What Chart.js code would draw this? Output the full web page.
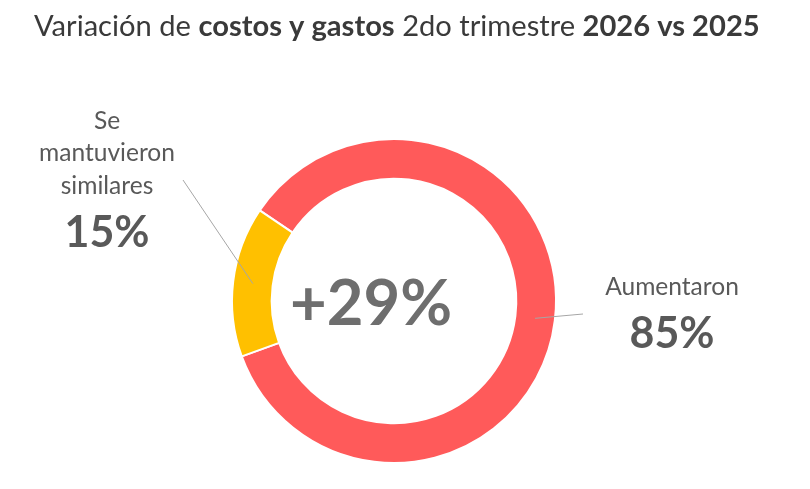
<!DOCTYPE html>
<html>
<head>
<meta charset="utf-8">
<script src="https://cdn.jsdelivr.net/npm/chart.js@4.4.1/dist/chart.umd.min.js"></script>
<style>
  html, body { margin: 0; padding: 0; background: #ffffff; }
  #wrap { width: 810px; height: 489px; position: relative; }
</style>
</head>
<body>
<div id="wrap"><canvas id="c"></canvas></div>
<script>
const categories = ['Aumentaron', 'Se mantuvieron similares'];
const labelLines = [['Aumentaron'], ['Se', 'mantuvieron', 'similares']];
const values = [85, 15];
const colors = ['#FF5A5A', '#FFC000'];
const centerValue = '+29%';
const titleParts = [
  ['Variación de ', false], ['costos y gastos', true], [' 2do trimestre ', false], ['2026 vs 2025', true]
];

const FONT = 'Lato, "Open Sans", sans-serif';

function fitSize(ctx, text, weight, targetW) {
  ctx.font = weight + ' 100px ' + FONT;
  return 100 * targetW / ctx.measureText(text).width;
}

const overlay = {
  id: 'overlay',
  afterDraw(chart) {
    const ctx = chart.ctx;
    const meta = chart.getDatasetMeta(0);
    const a0 = meta.data[0];
    const cx = a0.x, cy = a0.y;

    ctx.save();
    // Title
    let total = 0;
    const ts = 29;
    titleParts.forEach(p => { ctx.font = (p[1] ? 'bold ' : '') + ts + 'px ' + FONT; total += ctx.measureText(p[0]).width; });
    const scale = 726 / total;
    let x = 397 - 726 / 2;
    ctx.fillStyle = '#3a3a3a';
    ctx.textBaseline = 'alphabetic';
    ctx.textAlign = 'left';
    titleParts.forEach(p => {
      ctx.font = (p[1] ? 'bold ' : '') + (ts * scale) + 'px ' + FONT;
      ctx.fillText(p[0], x, 36);
      x += ctx.measureText(p[0]).width;
    });

    // Leader lines
    const starts = [[cx + 189, cy + 13], [cx - 211, cy - 121]];
    ctx.strokeStyle = '#A6A6A6';
    ctx.lineWidth = 1;
    meta.data.forEach((arc, i) => {
      const p = arc.getCenterPoint();
      ctx.beginPath();
      ctx.moveTo(starts[i][0], starts[i][1]);
      ctx.lineTo(p.x, p.y);
      ctx.stroke();
    });

    // Labels
    const regSize = fitSize(ctx, 'mantuvieron', 'normal', 136);
    const boldSize = fitSize(ctx, '85%', 'bold', 85);
    ctx.textAlign = 'center';
    const blocks = [
      { x: cx + 278, ys: [cy - 6], pctY: cy + 47 },
      { x: cx - 287, ys: [cy - 172, cy - 140, cy - 107], pctY: cy - 54 }
    ];
    blocks.forEach((b, i) => {
      ctx.fillStyle = '#595959';
      ctx.font = 'normal ' + regSize + 'px ' + FONT;
      labelLines[i].forEach((t, j) => ctx.fillText(t, b.x, b.ys[j]));
      ctx.font = 'bold ' + boldSize + 'px ' + FONT;
      ctx.fillText(values[i] + '%', b.x, b.pctY);
    });

    // Center value
    const cSize = fitSize(ctx, centerValue, 'bold', 162);
    ctx.font = 'bold ' + cSize + 'px ' + FONT;
    ctx.fillStyle = '#6E6E6E';
    ctx.fillText(centerValue, cx - 23, cy + 24);
    ctx.restore();
  }
};

new Chart(document.getElementById('c'), {
  type: 'doughnut',
  data: {
    labels: categories,
    datasets: [{
      data: values,
      backgroundColor: colors,
      borderColor: '#ffffff',
      borderWidth: 2,
      hoverOffset: 0
    }]
  },
  options: {
    responsive: true,
    maintainAspectRatio: false,
    animation: false,
    rotation: 304,
    cutout: '75.5%',
    layout: { padding: { top: 138, bottom: 25, left: 0, right: 22 } },
    plugins: {
      legend: { display: false },
      tooltip: { enabled: false },
      title: { display: false }
    }
  },
  plugins: [overlay]
});
</script>
</body>
</html>
